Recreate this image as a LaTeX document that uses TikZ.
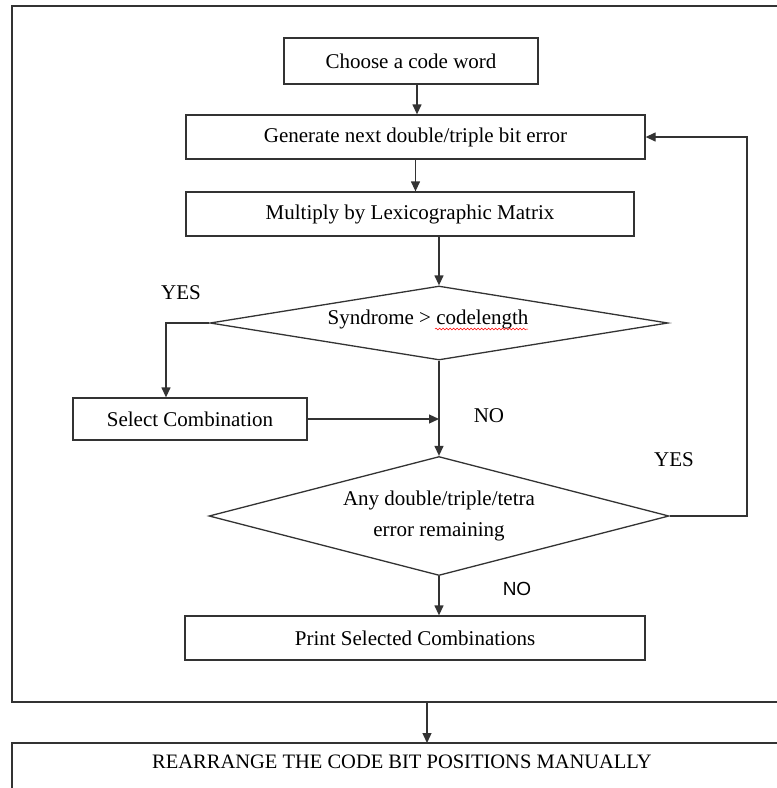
\documentclass[tikz,border=0pt]{standalone}
\usepackage{fontspec}
\setmainfont{Liberation Serif}
\newfontfamily\arialfont{Liberation Sans}
\usetikzlibrary{
    arrows.meta,
    shapes.geometric,
    decorations.pathmorphing
}
\tikzset{
  every node/.style={
    font=\fontsize{21}{31}\selectfont,
    text=black,
    inner sep=1.5pt
  },
  stepbox/.style={
    draw,
    minimum height=45pt
  },
  decision/.style={
    draw,
    diamond,
    inner sep=0pt,
    align=center
  },
  flow/.style={
    ->
  }
}

\begin{document}
\begin{tikzpicture}[x=1pt,y=-1pt,color=black!80,line width=1.3pt,>={Triangle[length=10pt,width=9pt]}]
    \useasboundingbox[fill=white] (0,0) rectangle (777,788);

    % 外枠
    \draw (12,6) rectangle (800,702);
    \draw (12,743) rectangle (800,820);

    % 処理
    \node[stepbox,minimum width=254pt,minimum height=46pt] (choose) at (411,61) {Choose a code word};
    \node[stepbox,minimum width=459pt,minimum height=44pt] (generate) at (415.5,137) {Generate next double/triple bit error};
    \node[stepbox,minimum width=448pt,minimum height=44pt] (multiply) at (410,214) {Multiply by Lexicographic Matrix};
    \node[stepbox,minimum width=234pt,minimum height=42pt] (select) at (190,419) {Select Combination};
    \node[stepbox,minimum width=460pt,minimum height=44pt] (print) at (415,638) {Print Selected Combinations};

    % 判定
    \node[decision,aspect=6.2,minimum width=458pt,minimum height=74pt] (syndrome) at (439,323) {};
    \node (syndrometext) at (428,319) {Syndrome > codelength};
    \node[decision,aspect=3.9,minimum width=460pt,minimum height=119pt] (remaining) at (439,516)
        {Any double/triple/tetra\\error remaining};

    % 下の箱
    \node[font=\fontsize{20.5}{25}\selectfont] (rearrange) at (402,762) {REARRANGE THE CODE BIT POSITIONS MANUALLY};
    \coordinate (frameout) at (427,702);
    \coordinate (boxtop) at (427,743);

    % 矢印
    \draw[flow] (generate.north -| 417,0) ++(0,-31) -- (generate.north -| 417,0);
    \draw[flow] (generate.south) -- (generate.south |- multiply.north);
    \draw[flow] (syndrome.north |- multiply.south) -- (syndrome.north);
    \draw[flow] (syndrome.west) -| (select.north -| 166,0);
    \coordinate (join) at (syndrome.south |- select.east);
    \draw[flow] (select.east) -- (join);
    \draw[flow] (syndrome.south) -- (syndrome.south |- remaining.north);
    \draw[flow] (remaining.east) -- (747,516) |- (generate.east);
    \draw[flow] (remaining.south) -- (remaining.south |- print.north);
    \draw[flow] (frameout) -- (boxtop);

    % ラベル
    \node (yes1) at (181,293) {YES};
    \node (no1) at (489,416) {NO};
    \node (yes2) at (674,460) {YES};
    \node[font=\arialfont\fontsize{19}{23}\selectfont] (no2) at (517,589) {NO};

    % 波線
    \draw[red,line width=0.5pt,decorate,decoration={snake,amplitude=0.9pt,segment length=3.5pt}]
        (435,329) -- (528,329);
\end{tikzpicture}
\end{document}
